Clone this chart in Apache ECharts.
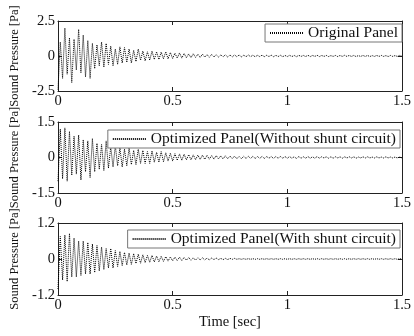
<!DOCTYPE html>
<html><head><meta charset="utf-8">
<script src="https://cdn.jsdelivr.net/npm/echarts@6/dist/echarts.min.js"></script>
<style>html,body{margin:0;padding:0;background:#fff}#c{width:414px;height:336px}</style>
</head><body><div id="c"></div>
<script>
const seriesNames = ['Original Panel', 'Optimized Panel(Without shunt circuit)', 'Optimized Panel(With shunt circuit)'];
const xTicks = [0, 0.5, 1, 1.5];
const yLimits = [2.5, 1.5, 1.2];
const sampleStep = 0.01; // seconds between samples

const originalPanel = [
 -2.4, 1.0, -1.6, 2.0, -1.3, 1.3, -1.9, 1.2, -1.0, 1.9,
 -1.2, 1.5, -1.5, 1.1, -1.6, 0.9, -0.9, 0.8, -0.7, 1.0,
 -0.8, 0.9, -0.6, 0.7, -0.7, 0.5, -0.6, 0.65, -0.5, 0.6,
 -0.45, 0.5, -0.5, 0.4, -0.4, 0.5, -0.3, 0.35, -0.35, 0.3,
 -0.3, 0.35, -0.25, 0.3, -0.25, 0.28, -0.2, 0.3, -0.2, 0.25,
 -0.18, 0.2, -0.15, 0.22, -0.15, 0.18, -0.12, 0.15, -0.12, 0.16,
 -0.1, 0.12, -0.1, 0.13, -0.08, 0.1, -0.09, 0.11, -0.07, 0.09,
 -0.08, 0.08, -0.06, 0.09, -0.07, 0.07, -0.06, 0.08, -0.05, 0.07,
 -0.06, 0.06, -0.05, 0.07, -0.05, 0.06, -0.06, 0.05, -0.04, 0.06,
 -0.05, 0.05, -0.04, 0.06, -0.05, 0.05, -0.04, 0.05, -0.05, 0.04,
 -0.04, 0.05, -0.04, 0.04, -0.05, 0.05, -0.03, 0.04, -0.04, 0.05,
 -0.04, 0.04, -0.03, 0.05, -0.04, 0.04, -0.03, 0.04, -0.04, 0.03,
 -0.03, 0.04, -0.04, 0.04, -0.03, 0.05, -0.03, 0.04, -0.03, 0.04,
 -0.04, 0.03, -0.03, 0.04, -0.03, 0.04, -0.04, 0.03, -0.03, 0.04,
 -0.03, 0.04, -0.03, 0.03, -0.04, 0.04, -0.03, 0.03, -0.03, 0.04, -0.02
];
const withoutShunt = [
 -1.0, 1.2, -0.9, 1.25, -1.0, 1.1, -0.75, 0.9, -0.7, 0.95,
 -0.95, 0.75, -0.6, 0.7, -0.85, 0.8, -0.6, 0.6, -0.5, 0.55,
 -0.55, 0.7, -0.45, 0.45, -0.4, 0.5, -0.35, 0.4, -0.4, 0.35,
 -0.35, 0.4, -0.3, 0.3, -0.3, 0.35, -0.25, 0.3, -0.25, 0.25,
 -0.25, 0.28, -0.2, 0.22, -0.2, 0.25, -0.18, 0.2, -0.15, 0.18,
 -0.15, 0.16, -0.12, 0.15, -0.12, 0.14, -0.1, 0.12, -0.1, 0.11,
 -0.09, 0.1, -0.08, 0.1, -0.08, 0.09, -0.07, 0.08, -0.07, 0.08,
 -0.06, 0.07, -0.06, 0.07, -0.05, 0.06, -0.05, 0.06, -0.05, 0.05,
 -0.05, 0.05, -0.04, 0.05, -0.04, 0.05, -0.04, 0.04, -0.04, 0.05,
 -0.04, 0.04, -0.03, 0.04, -0.04, 0.04, -0.03, 0.04, -0.03, 0.04,
 -0.03, 0.04, -0.03, 0.03, -0.04, 0.04, -0.03, 0.03, -0.03, 0.04,
 -0.03, 0.03, -0.03, 0.04, -0.03, 0.03, -0.02, 0.03, -0.03, 0.03,
 -0.03, 0.03, -0.02, 0.03, -0.03, 0.03, -0.02, 0.03, -0.02, 0.03,
 -0.03, 0.02, -0.02, 0.03, -0.02, 0.03, -0.02, 0.02, -0.02, 0.03,
 -0.02, 0.02, -0.02, 0.03, -0.02, 0.02, -0.02, 0.02, -0.02, 0.02, -0.02
];
const withShunt = [
 -1.0, 0.75, -0.7, 0.8, -0.75, 0.85, -0.6, 0.7, -0.6, 0.6,
 -0.55, 0.6, -0.5, 0.55, -0.5, 0.5, -0.45, 0.45, -0.4, 0.4,
 -0.35, 0.35, -0.3, 0.35, -0.3, 0.28, -0.25, 0.25, -0.22, 0.22,
 -0.2, 0.2, -0.18, 0.18, -0.15, 0.16, -0.14, 0.14, -0.12, 0.12,
 -0.11, 0.12, -0.1, 0.1, -0.09, 0.09, -0.08, 0.08, -0.07, 0.07,
 -0.06, 0.06, -0.05, 0.06, -0.05, 0.05, -0.04, 0.05, -0.04, 0.04,
 -0.04, 0.04, -0.03, 0.04, -0.03, 0.03, -0.03, 0.03, -0.02, 0.03,
 -0.02, 0.02, -0.02, 0.02, -0.02, 0.02, -0.01, 0.02, -0.01, 0.01,
 -0.01, 0.01, -0.01, 0.01, -0.01, 0.01, -0.01, 0.01, -0.01, 0.01,
 -0.01, 0.01, -0.01, 0.01, -0.01, 0.01, -0.01, 0.01, -0.01, 0.01,
 -0.01, 0.01, -0.01, 0.01, -0.01, 0.01, -0.01, 0.01, -0.01, 0.01,
 -0.01, 0.01, -0.01, 0.01, -0.01, 0.01, -0.01, 0.01, -0.01, 0.01,
 -0.01, 0.01, -0.01, 0.01, -0.01, 0.01, -0.01, 0.01, -0.01, 0.01,
 -0.01, 0.01, -0.01, 0.01, -0.01, 0.01, -0.01, 0.01, -0.01, 0.01,
 -0.01, 0.01, -0.01, 0.01, -0.01, 0.01, -0.01, 0.01, -0.01, 0.01, 0
];
const allValues = [originalPanel, withoutShunt, withShunt];

const FONT = '"Liberation Serif", "Times New Roman", serif';
const grids = [
  {left: 58, right: 9, top: 21, height: 70},
  {left: 58, right: 9, top: 122, height: 71},
  {left: 58, right: 9, top: 223, height: 72}
];
const legendTops = [24, 130, 230];
const legendRights = [12, 14, 14];

const xAxes = [], yAxes = [], series = [], legends = [];
const axisLineStyle = {color: '#222', width: 1};
for (let i = 0; i < 3; i++) {
  xAxes.push({
    gridIndex: i, type: 'value', min: xTicks[0], max: xTicks[xTicks.length - 1], interval: 0.5,
    axisLine: {onZero: false, lineStyle: axisLineStyle},
    axisTick: {inside: true, length: 4, lineStyle: axisLineStyle},
    axisLabel: {fontFamily: FONT, fontSize: 14.5, color: '#111', margin: 3, showMaxLabel: true},
    splitLine: {show: false},
    name: i === 2 ? 'Time [sec]' : '',
    nameLocation: 'middle', nameGap: 20,
    nameTextStyle: {fontFamily: FONT, fontSize: 14.5, color: '#111'}
  });
  yAxes.push({
    gridIndex: i, type: 'value', min: -yLimits[i], max: yLimits[i], interval: yLimits[i],
    axisLine: {onZero: false, lineStyle: axisLineStyle},
    axisTick: {inside: true, length: 4, lineStyle: axisLineStyle},
    axisLabel: {fontFamily: FONT, fontSize: 14.5, color: '#111', margin: 3},
    splitLine: {show: false},
    name: 'Sound Pressure [Pa]', nameLocation: 'middle', nameGap: 29,
    nameTextStyle: {fontFamily: FONT, fontSize: 12.5, color: '#111'}
  });
}
for (let i = 0; i < 3; i++) {
  xAxes.push({
    gridIndex: i, type: 'value', position: 'top', min: 0, max: 1.5, interval: 0.5,
    axisLine: {onZero: false, lineStyle: axisLineStyle},
    axisTick: {inside: true, length: 4, lineStyle: axisLineStyle},
    axisLabel: {show: false}, splitLine: {show: false}
  });
  yAxes.push({
    gridIndex: i, type: 'value', position: 'right', min: -yLimits[i], max: yLimits[i], interval: yLimits[i],
    axisLine: {onZero: false, lineStyle: axisLineStyle},
    axisTick: {inside: true, length: 4, lineStyle: axisLineStyle},
    axisLabel: {show: false}, splitLine: {show: false}
  });
}
for (let i = 0; i < 3; i++) {
  const vals = allValues[i];
  series.push({
    name: seriesNames[i], type: 'line', xAxisIndex: i, yAxisIndex: i,
    data: vals.map((v, k) => [k * sampleStep, v]),
    showSymbol: false, symbol: 'none', animation: false,
    lineStyle: {color: '#000', width: 1, type: [1, 1]}
  });
  legends.push({
    data: [seriesNames[i]], right: legendRights[i], top: legendTops[i],
    orient: 'horizontal', itemWidth: 33, itemHeight: 12,
    backgroundColor: '#fff', borderColor: '#777', borderWidth: 1, borderRadius: 0,
    padding: [1, 4, 1, 4],
    textStyle: {fontFamily: FONT, fontSize: 15.5, color: '#111'},
    itemStyle: {opacity: 0},
    selectedMode: false
  });
}
const chart = echarts.init(document.getElementById('c'), null, {renderer: 'canvas'});
chart.setOption({
  animation: false,
  backgroundColor: '#fff',
  grid: grids,
  xAxis: xAxes,
  yAxis: yAxes,
  legend: legends,
  series: series
});
</script>
</body></html>
